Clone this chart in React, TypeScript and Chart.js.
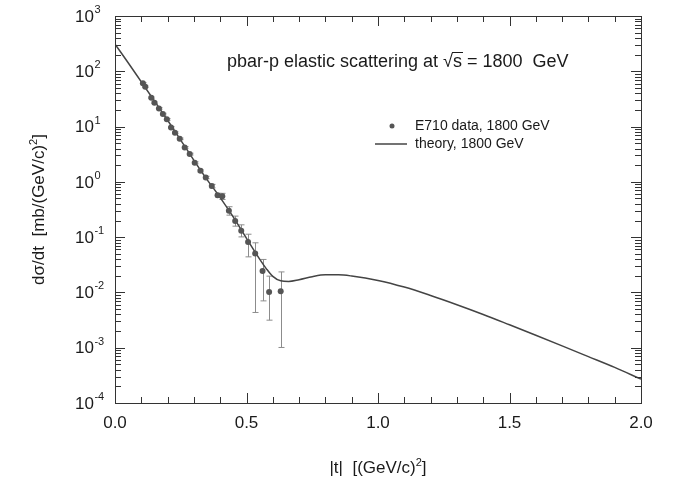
import React, { useEffect, useRef } from 'react';
import { Chart, registerables } from 'chart.js';
Chart.register(...registerables);

// E710 data, 1800 GeV  (|t| in (GeV/c)^2, dσ/dt in mb/(GeV/c)^2)
const dataT = [0.106, 0.115, 0.138, 0.150, 0.167, 0.182, 0.197, 0.213, 0.228, 0.246, 0.265, 0.284, 0.303, 0.325, 0.345, 0.368, 0.390, 0.408, 0.433, 0.457, 0.480, 0.506, 0.533, 0.561, 0.586, 0.630];
const dataY = [60.5, 52.5, 33.2, 27.0, 21.3, 16.8, 13.5, 9.67, 7.73, 6.0, 4.2, 3.18, 2.21, 1.58, 1.2, 0.84, 0.575, 0.55, 0.30, 0.195, 0.13, 0.082, 0.0507, 0.0245, 0.0102, 0.0105];
const errHigh = [62.5, 54.2, 34.3, 27.9, 22.0, 17.4, 14.0, 10.0, 8.0, 6.2, 4.35, 3.3, 2.3, 1.65, 1.26, 0.9, 0.62, 0.62, 0.355, 0.24, 0.167, 0.113, 0.079, 0.0395, 0.0197, 0.0235];
const errLow = [58.5, 50.8, 32.1, 26.1, 20.6, 16.2, 13.0, 9.35, 7.46, 5.8, 4.05, 3.06, 2.12, 1.51, 1.14, 0.78, 0.53, 0.48, 0.25, 0.158, 0.101, 0.044, 0.00434, 0.00703, 0.00315, 0.00101];

// theory, 1800 GeV
const theoryT = [0.0, 0.05, 0.10, 0.15, 0.20, 0.25, 0.30, 0.35, 0.40, 0.45, 0.50, 0.55, 0.575, 0.60, 0.63, 0.66, 0.70, 0.75, 0.80, 0.85, 0.90, 1.0, 1.1, 1.2, 1.3, 1.4, 1.5, 1.6, 1.7, 1.8, 1.9, 2.0];
const theoryY = [310, 143, 64.5, 29, 13.0, 5.7, 2.45, 1.1, 0.52, 0.23, 0.095, 0.040, 0.027, 0.0195, 0.0162, 0.0158, 0.017, 0.0193, 0.0208, 0.0208, 0.0198, 0.0165, 0.0125, 0.0088, 0.0060, 0.0040, 0.0026, 0.00168, 0.00108, 0.00069, 0.00044, 0.00027];

const xTickLabels = ['0.0', '0.5', '1.0', '1.5', '2.0'];
const yTickExponents = [3, 2, 1, 0, -1, -2, -3, -4];

const FONT = '"Liberation Sans", Arial, Helvetica, sans-serif';
const TXT = '#1a1a1a';

function drawSupText(ctx: CanvasRenderingContext2D, parts: [string, boolean][], size: number, supSize: number) {
  // returns total width; draws starting at 0, baseline 0
  let w = 0;
  const widths = parts.map(([s, sup]) => {
    ctx.font = `${sup ? supSize : size}px ${FONT}`;
    return ctx.measureText(s).width;
  });
  return { widths, total: widths.reduce((a, b) => a + b, 0) };
}

function drawParts(ctx: CanvasRenderingContext2D, parts: [string, boolean][], size: number, supSize: number, cx: number, baseline: number) {
  const { widths, total } = drawSupText(ctx, parts, size, supSize);
  let x = cx - total / 2;
  ctx.textAlign = 'left';
  ctx.textBaseline = 'alphabetic';
  parts.forEach(([s, sup], i) => {
    ctx.font = `${sup ? supSize : size}px ${FONT}`;
    ctx.fillText(s, x, sup ? baseline - size * 0.42 : baseline);
    x += widths[i];
  });
}

const decor = {
  id: 'decor',
  beforeDatasetsDraw(chart: any) {
    const { ctx, scales } = chart;
    const x = scales.x, y = scales.y;
    ctx.save();
    ctx.strokeStyle = '#8c8c8c';
    ctx.lineWidth = 1;
    dataT.forEach((t, i) => {
      const px = Math.round(x.getPixelForValue(t)) + 0.5;
      const y1 = y.getPixelForValue(errHigh[i]);
      const y2 = y.getPixelForValue(errLow[i]);
      ctx.beginPath();
      ctx.moveTo(px, y1); ctx.lineTo(px, y2);
      ctx.moveTo(px - 3, y1); ctx.lineTo(px + 3, y1);
      ctx.moveTo(px - 3, y2); ctx.lineTo(px + 3, y2);
      ctx.stroke();
    });
    ctx.restore();
  },
  afterDraw(chart: any) {
    const { ctx, chartArea, scales } = chart;
    const x = scales.x, y = scales.y;
    const { left, right, top, bottom } = chartArea;
    ctx.save();
    // frame
    ctx.strokeStyle = '#333';
    ctx.lineWidth = 1;
    ctx.strokeRect(Math.round(left) + 0.5, Math.round(top) + 0.5, Math.round(right - left), Math.round(bottom - top));
    // x ticks (inward, bottom and top)
    ctx.beginPath();
    for (let k = 1; k < 20; k++) {
      const v = k / 10;
      const px = Math.round(x.getPixelForValue(v)) + 0.5;
      const len = k % 5 === 0 ? 10 : 6;
      ctx.moveTo(px, bottom); ctx.lineTo(px, bottom - len);
      ctx.moveTo(px, top); ctx.lineTo(px, top + len);
    }
    // y ticks (inward, left and right)
    for (let n = -4; n <= 2; n++) {
      for (let k = 1; k <= 9; k++) {
        if (n === -4 && k === 1) continue;
        const v = k * Math.pow(10, n);
        const py = Math.round(y.getPixelForValue(v)) + 0.5;
        const len = k === 1 ? 10 : 6;
        ctx.moveTo(left, py); ctx.lineTo(left + len, py);
        ctx.moveTo(right, py); ctx.lineTo(right - len, py);
      }
    }
    ctx.stroke();

    // y tick labels 10^n
    ctx.fillStyle = TXT;
    ctx.textAlign = 'left';
    ctx.textBaseline = 'middle';
    yTickExponents.forEach((n) => {
      const py = y.getPixelForValue(Math.pow(10, n));
      ctx.font = `17px ${FONT}`;
      ctx.fillText('10', 75, py + 1);
      const w = ctx.measureText('10').width;
      ctx.font = `11px ${FONT}`;
      ctx.fillText(String(n), 75 + w + 0.5, py - 6);
    });

    // y axis title
    ctx.save();
    ctx.translate(44, (top + bottom) / 2);
    ctx.rotate(-Math.PI / 2);
    drawParts(ctx, [['dσ/dt  [mb/(GeV/c)', false], ['2', true], [']', false]], 17, 11, 0, 0);
    ctx.restore();

    // x axis title
    drawParts(ctx, [['|t|  [(GeV/c)', false], ['2', true], [']', false]], 17, 11, (left + right) / 2, 473);

    // plot title with sqrt(s)
    ctx.font = `18px ${FONT}`;
    ctx.textBaseline = 'alphabetic';
    ctx.textAlign = 'left';
    const base = 67;
    let tx = 227;
    const p1 = 'pbar-p elastic scattering at ';
    ctx.fillText(p1, tx, base);
    tx += ctx.measureText(p1).width;
    ctx.fillText('√', tx, base);
    const rw = ctx.measureText('√').width;
    tx += rw;
    const sw = ctx.measureText('s').width;
    ctx.fillText('s', tx, base);
    ctx.beginPath();
    ctx.lineWidth = 1;
    ctx.strokeStyle = TXT;
    ctx.moveTo(tx - 1, base - 14.5);
    ctx.lineTo(tx + sw + 1, base - 14.5);
    ctx.stroke();
    tx += sw;
    ctx.fillText(' = 1800  GeV', tx, base);

    // legend
    ctx.font = `14px ${FONT}`;
    ctx.textBaseline = 'middle';
    ctx.fillStyle = '#555';
    ctx.beginPath();
    ctx.arc(392, 126, 2.5, 0, Math.PI * 2);
    ctx.fill();
    ctx.fillStyle = TXT;
    ctx.fillText('E710 data, 1800 GeV', 415, 126);
    ctx.strokeStyle = '#444';
    ctx.lineWidth = 1.5;
    ctx.beginPath();
    ctx.moveTo(375, 144); ctx.lineTo(407, 144);
    ctx.stroke();
    ctx.fillText('theory, 1800 GeV', 415, 144);
    ctx.restore();
  },
};

export default function App() {
  const ref = useRef<HTMLCanvasElement | null>(null);
  useEffect(() => {
    if (!ref.current) return;
    const chart = new Chart(ref.current, {
      type: 'scatter',
      data: {
        datasets: [
          {
            label: 'E710 data, 1800 GeV',
            data: dataT.map((t, i) => ({ x: t, y: dataY[i] })),
            pointRadius: 3,
            pointBackgroundColor: '#555',
            pointBorderWidth: 0,
            showLine: false,
          },
          {
            label: 'theory, 1800 GeV',
            data: theoryT.map((t, i) => ({ x: t, y: theoryY[i] })),
            showLine: true,
            pointRadius: 0,
            borderColor: '#444',
            borderWidth: 1.5,
            cubicInterpolationMode: 'monotone',
          } as any,
        ],
      },
      options: {
        responsive: false,
        animation: false,
        devicePixelRatio: 1,
        layout: { padding: { left: 0, right: 36, top: 16, bottom: 0 } },
        plugins: { legend: { display: false }, tooltip: { enabled: false }, title: { display: false } },
        scales: {
          x: {
            type: 'linear',
            min: 0,
            max: 2,
            grid: { display: false, drawTicks: false },
            border: { display: false },
            ticks: {
              stepSize: 0.5,
              autoSkip: false,
              maxRotation: 0,
              padding: 10,
              color: TXT,
              font: { size: 17, family: FONT },
              callback: (v: any) => xTickLabels[Math.round(Number(v) * 2)] ?? '',
            },
            afterFit: (s: any) => { s.height = 77; },
          },
          y: {
            type: 'logarithmic',
            min: 1e-4,
            max: 1e3,
            grid: { display: false, drawTicks: false },
            border: { display: false },
            ticks: { display: false },
            afterFit: (s: any) => { s.width = 115; },
          },
        },
      },
      plugins: [decor],
    } as any);
    return () => chart.destroy();
  }, []);
  return (
    <div style={{ position: 'absolute', left: 0, top: 0, width: 677, height: 480, background: '#fff' }}>
      <canvas ref={ref} width={677} height={480} style={{ width: 677, height: 480 }} />
    </div>
  );
}
